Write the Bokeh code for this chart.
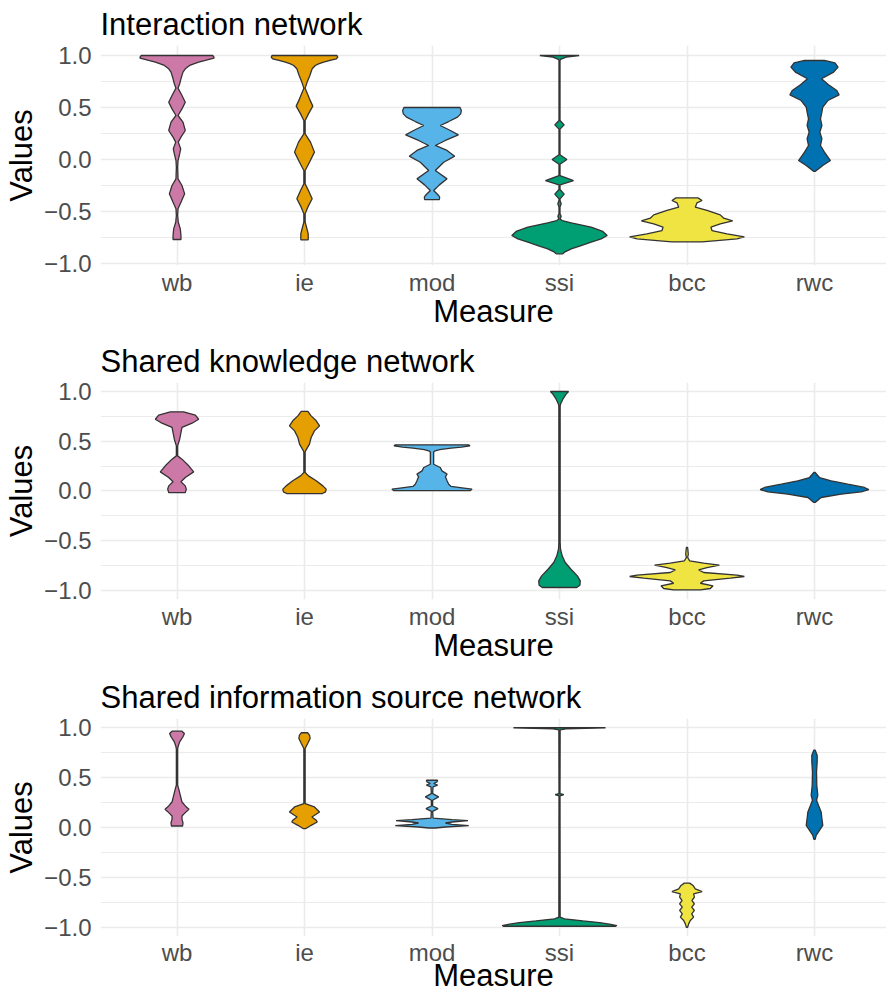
from bokeh.plotting import figure
from bokeh.layouts import column
from bokeh.models import FixedTicker, CustomJSTickFormatter, Range1d
from bokeh.embed import file_html
from bokeh.resources import INLINE

FONT = "Liberation Sans"

MEASURES = ["wb", "ie", "mod", "ssi", "bcc", "rwc"]
COLORS = ["#CC79A7", "#E69F00", "#56B4E9", "#009E73", "#F0E442", "#0072B2"]
Y_TICKS = [-1.0, -0.5, 0.0, 0.5, 1.0]
Y_MINOR = [-0.75, -0.25, 0.25, 0.75]
TITLES = ["Interaction network", "Shared knowledge network", "Shared information source network"]

# violin outlines: (value, half-width of the density in category units)
INT_WB = [(1.000,0.280),(0.984,0.290),(0.974,0.290),(0.952,0.222),(0.936,0.170),(0.920,0.131),(0.904,0.099),(0.872,0.065),(0.840,0.047),(0.776,0.031),(0.728,0.021),(0.686,0.008),(0.615,0.039),(0.551,0.065),(0.487,0.039),(0.423,0.008),(0.359,0.047),(0.279,0.065),(0.215,0.031),(0.167,0.010),(0.103,0.029),(0.054,0.021),(-0.010,0.008),(-0.074,0.005),(-0.186,0.008),(-0.250,0.039),(-0.330,0.060),(-0.410,0.031),(-0.474,0.008),(-0.538,0.005),(-0.603,0.010),(-0.667,0.026),(-0.731,0.031),(-0.769,0.031)]
INT_IE = [(1.000,0.255),(0.984,0.261),(0.968,0.250),(0.952,0.200),(0.936,0.150),(0.920,0.110),(0.904,0.085),(0.872,0.060),(0.808,0.042),(0.744,0.021),(0.686,0.005),(0.583,0.039),(0.513,0.065),(0.439,0.031),(0.375,0.005),(0.247,0.005),(0.167,0.047),(0.071,0.078),(-0.026,0.039),(-0.106,0.005),(-0.234,0.005),(-0.298,0.031),(-0.378,0.060),(-0.458,0.026),(-0.522,0.005),(-0.603,0.005),(-0.651,0.016),(-0.715,0.029),(-0.772,0.029)]
INT_MOD = [(0.500,0.220),(0.471,0.230),(0.439,0.225),(0.407,0.200),(0.365,0.131),(0.327,0.065),(0.279,0.144),(0.237,0.207),(0.183,0.105),(0.135,0.026),(0.087,0.118),(0.032,0.178),(-0.026,0.092),(-0.106,0.026),(-0.186,0.118),(-0.244,0.058),(-0.298,0.013),(-0.346,0.052),(-0.362,0.060),(-0.385,0.058)]
INT_SSI = [(1.000,0.154),(0.984,0.052),(0.962,0.008),(0.952,0.004),(0.375,0.004),(0.333,0.037),(0.292,0.004),(0.045,0.004),(0.000,0.058),(-0.045,0.004),(-0.154,0.004),(-0.202,0.110),(-0.244,0.004),(-0.288,0.004),(-0.333,0.037),(-0.378,0.004),(-0.394,0.004),(-0.426,0.013),(-0.458,0.004),(-0.522,0.004),(-0.545,0.013),(-0.571,0.005),(-0.587,0.021),(-0.609,0.092),(-0.651,0.248),(-0.692,0.340),(-0.731,0.374),(-0.763,0.327),(-0.795,0.248),(-0.827,0.170),(-0.859,0.092),(-0.891,0.039),(-0.907,0.026)]
INT_BCC = [(-0.369,0.086),(-0.394,0.118),(-0.417,0.078),(-0.458,0.065),(-0.490,0.157),(-0.532,0.261),(-0.564,0.288),(-0.590,0.358),(-0.619,0.261),(-0.651,0.188),(-0.683,0.196),(-0.715,0.314),(-0.744,0.450),(-0.763,0.392),(-0.779,0.235),(-0.792,0.118)]
INT_RWC = [(0.952,0.078),(0.929,0.160),(0.888,0.185),(0.840,0.150),(0.776,0.055),(0.718,0.110),(0.663,0.175),(0.622,0.193),(0.567,0.105),(0.503,0.065),(0.455,0.058),(0.391,0.047),(0.327,0.058),(0.263,0.042),(0.199,0.058),(0.135,0.047),(0.071,0.078),(-0.010,0.125),(-0.058,0.065),(-0.115,0.005)]

SK_WB = [(0.795,0.052),(0.762,0.144),(0.721,0.170),(0.681,0.118),(0.638,0.039),(0.587,0.031),(0.520,0.021),(0.453,0.005),(0.352,0.005),(0.319,0.039),(0.252,0.092),(0.191,0.131),(0.134,0.065),(0.091,0.031),(0.050,0.065),(0.017,0.073),(-0.017,0.065)]
SK_IE = [(0.799,0.026),(0.755,0.052),(0.705,0.092),(0.654,0.118),(0.604,0.078),(0.537,0.052),(0.470,0.039),(0.403,0.008),(0.386,0.005),(0.185,0.005),(0.151,0.031),(0.101,0.092),(0.050,0.144),(0.017,0.170),(-0.010,0.165),(-0.027,0.140)]
SK_MOD = [(0.463,0.290),(0.453,0.298),(0.440,0.230),(0.430,0.150),(0.415,0.060),(0.403,0.025),(0.390,0.013),(0.268,0.013),(0.235,0.065),(0.201,0.078),(0.168,0.118),(0.141,0.105),(0.101,0.118),(0.067,0.131),(0.044,0.150),(0.030,0.235),(0.017,0.314),(0.003,0.300)]
SK_SSI = [(1.000,0.071),(0.973,0.052),(0.923,0.026),(0.872,0.008),(0.850,0.005),(-0.520,0.005),(-0.587,0.008),(-0.654,0.021),(-0.721,0.045),(-0.789,0.090),(-0.856,0.140),(-0.906,0.163),(-0.950,0.160),(-0.973,0.135)]
SK_BCC = [(-0.570,0.005),(-0.638,0.010),(-0.671,0.005),(-0.705,0.021),(-0.728,0.131),(-0.748,0.254),(-0.772,0.157),(-0.795,0.092),(-0.822,0.131),(-0.849,0.392),(-0.862,0.450),(-0.879,0.340),(-0.906,0.131),(-0.930,0.105),(-0.956,0.204),(-0.983,0.183),(-0.997,0.105)]
SK_RWC = [(0.185,0.005),(0.134,0.039),(0.101,0.131),(0.067,0.261),(0.034,0.392),(0.013,0.426),(-0.010,0.366),(-0.034,0.209),(-0.067,0.052),(-0.117,0.005)]

SIS_WB = [(0.966,0.039),(0.943,0.058),(0.910,0.047),(0.859,0.021),(0.809,0.008),(0.786,0.005),(0.424,0.005),(0.390,0.013),(0.323,0.026),(0.256,0.039),(0.216,0.065),(0.183,0.094),(0.149,0.065),(0.116,0.039),(0.082,0.039),(0.049,0.047),(0.015,0.044)]
SIS_IE = [(0.950,0.026),(0.925,0.040),(0.893,0.044),(0.843,0.025),(0.792,0.005),(0.240,0.005),(0.206,0.078),(0.156,0.118),(0.106,0.058),(0.072,0.092),(0.055,0.100),(0.022,0.052),(-0.012,0.008)]
SIS_MOD = [(0.474,0.044),(0.457,0.039),(0.441,0.013),(0.424,0.044),(0.407,0.008),(0.340,0.005),(0.307,0.052),(0.273,0.005),(0.216,0.005),(0.189,0.047),(0.162,0.005),(0.095,0.008),(0.079,0.157),(0.069,0.282),(0.055,0.157),(0.045,0.105),(0.032,0.157),(0.018,0.288),(0.005,0.105),(-0.005,0.026)]
SIS_SSI = [(1.000,0.361),(0.993,0.200),(0.988,0.050),(0.980,0.005),(0.340,0.004),(0.330,0.034),(0.317,0.004),(-0.899,0.005),(-0.916,0.039),(-0.936,0.183),(-0.953,0.314),(-0.969,0.392),(-0.983,0.450),(-0.990,0.440)]
SIS_BCC = [(-0.558,0.021),(-0.581,0.047),(-0.615,0.065),(-0.642,0.118),(-0.665,0.052),(-0.698,0.058),(-0.732,0.039),(-0.765,0.058),(-0.799,0.037),(-0.832,0.058),(-0.866,0.037),(-0.899,0.052),(-0.933,0.026),(-0.966,0.013),(-1.000,0.005)]
SIS_RWC = [(0.776,0.005),(0.725,0.021),(0.658,0.021),(0.558,0.016),(0.424,0.018),(0.323,0.026),(0.273,0.016),(0.223,0.031),(0.156,0.052),(0.089,0.058),(0.022,0.065),(-0.028,0.039),(-0.079,0.013),(-0.119,0.005)]

PANELS = [
    [INT_WB, INT_IE, INT_MOD, INT_SSI, INT_BCC, INT_RWC],
    [SK_WB, SK_IE, SK_MOD, SK_SSI, SK_BCC, SK_RWC],
    [SIS_WB, SIS_IE, SIS_MOD, SIS_SSI, SIS_BCC, SIS_RWC],
]

# layout (pixels): figure height, frame top, frame height, y range, tick standoff, label standoff
LAYOUT = [
    (338, 45, 220, (-1.019, 1.096), 3, -5),
    (335, 44, 217, (-1.0936, 1.0906), 3, -5),
    (323, 45, 218, (-1.093, 1.093), 2, -11),
]
WIDTH = 886
LEFT = 100
GRID = "#EBEBEB"


def make_panel(idx):
    h, top, fh, yr, tso, lso = LAYOUT[idx]
    frame_w = WIDTH - LEFT
    x_end = 0.4 + frame_w / 127.5
    p = figure(width=WIDTH, height=h, x_range=Range1d(0.4, x_end), y_range=Range1d(*yr),
               output_backend="svg", toolbar_location=None,
               min_border_left=LEFT, min_border_right=0, min_border_top=top,
               min_border_bottom=h - top - fh)
    p.outline_line_color = None
    p.background_fill_color = "white"
    p.border_fill_color = "white"

    p.title.text = TITLES[idx]
    p.title.text_font = FONT
    p.title.text_font_size = "31px"
    p.title.text_font_style = "normal"
    p.title.text_color = "black"
    p.title.align = "left"
    p.title.offset = 0
    p.title.standoff = 7

    xs, ys = [], []
    for i, viol in enumerate(PANELS[idx]):
        c = i + 1
        vals = [v for v, w in viol]
        wid = [w for v, w in viol]
        xs.append([c + w for w in wid] + [c - w for w in wid[::-1]])
        ys.append(vals + vals[::-1])
    p.patches(xs, ys, fill_color=COLORS, line_color="#333333", line_width=1.3)

    yt = FixedTicker(ticks=Y_TICKS, minor_ticks=Y_MINOR)
    xt = FixedTicker(ticks=list(range(1, len(MEASURES) + 1)))
    p.yaxis.ticker = yt
    p.xaxis.ticker = xt
    p.ygrid.ticker = yt
    p.xgrid.ticker = xt
    p.ygrid.grid_line_color = GRID
    p.ygrid.grid_line_width = 1.6
    p.ygrid.minor_grid_line_color = GRID
    p.ygrid.minor_grid_line_width = 1.0
    p.xgrid.grid_line_color = GRID
    p.xgrid.grid_line_width = 1.6
    for g in (p.xgrid, p.ygrid):
        g.level = "underlay"

    p.yaxis.formatter = CustomJSTickFormatter(code="return tick.toFixed(1).replace('-', '\u2212');")
    p.xaxis.major_label_overrides = {i + 1: m for i, m in enumerate(MEASURES)}

    for ax in (p.xaxis[0], p.yaxis[0]):
        ax.axis_line_color = None
        ax.major_tick_line_color = None
        ax.minor_tick_line_color = None
        ax.major_tick_out = 0
        ax.major_tick_in = 0
        ax.minor_tick_out = 0
        ax.minor_tick_in = 0
        ax.major_label_text_font = FONT
        ax.major_label_text_font_size = "24px"
        ax.major_label_text_color = "#4D4D4D"
        ax.axis_label_text_font = FONT
        ax.axis_label_text_font_size = "31px"
        ax.axis_label_text_font_style = "normal"
        ax.axis_label_text_color = "black"
    p.yaxis.axis_label = "Values"
    p.xaxis.axis_label = "Measure"
    p.yaxis.major_label_standoff = 9
    p.yaxis.axis_label_standoff = 2
    p.xaxis.major_label_standoff = tso
    p.xaxis.axis_label_standoff = lso
    return p


figs = [make_panel(i) for i in range(3)]
layout = column(*figs, spacing=0)
open("out.html", "w").write(file_html(layout, INLINE))
